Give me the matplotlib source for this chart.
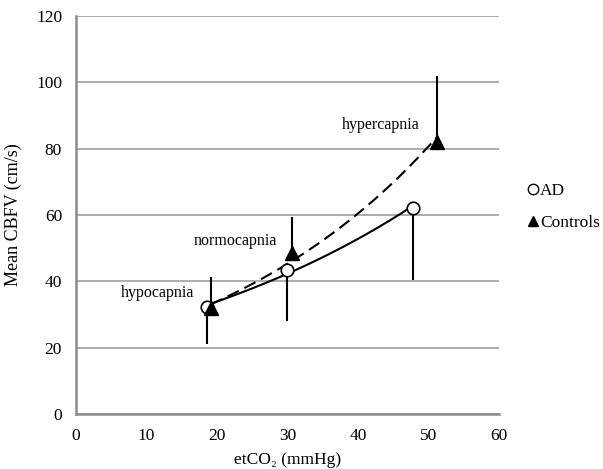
import matplotlib
matplotlib.use("Agg")
import matplotlib.pyplot as plt
import numpy as np

# values
ad_x = [18.6, 29.9, 47.8]
ad_y = [32.3, 43.4, 62.1]
ad_err_low = [11.2, 15.4, 21.7]      # AD error bars point down

ctl_x = [19.1, 30.6, 51.2]
ctl_y = [32.0, 48.5, 82.0]
ctl_err_high = [9.3, 10.9, 20.0]     # Controls error bars point up

phase_labels = ["hypocapnia", "normocapnia", "hypercapnia"]
phase_label_xy = [(11.6, 36.5), (22.6, 52.2), (43.2, 87.1)]

x_ticks = [0, 10, 20, 30, 40, 50, 60]
y_ticks = [0, 20, 40, 60, 80, 100, 120]

plt.rcParams["font.family"] = ["Liberation Serif", "DejaVu Serif"]


def exp_trend(x, y):
    # Excel-style exponential trendline: fit ln(y) = ln(a) + b*x
    b, ln_a = np.polyfit(x, np.log(y), 1)
    xs = np.linspace(min(x), max(x), 200)
    return xs, np.exp(ln_a) * np.exp(b * xs)


fig = plt.figure(figsize=(6.03, 4.69), dpi=100)
ax = fig.add_axes([0.126, 0.1173, 0.7015, 0.8486])

ax.set_xlim(0, 60)
ax.set_ylim(0, 120)
ax.set_xticks(x_ticks)
ax.set_yticks(y_ticks)
ax.tick_params(axis="y", length=0, labelsize=12.5, pad=10)
ax.tick_params(axis="x", length=0, labelsize=12.5, pad=10)
ax.yaxis.grid(True, color="#a0a0a0", linewidth=1.2)
ax.set_axisbelow(True)
for side in ("top", "right"):
    ax.spines[side].set_visible(False)
for side in ("left", "bottom"):
    ax.spines[side].set_color("#8c8c8c")
    ax.spines[side].set_linewidth(1.8)

# error bars
ax.errorbar(ad_x, ad_y, yerr=[ad_err_low, [0] * 3], fmt="none",
            ecolor="black", elinewidth=1.5, capsize=0, zorder=2)
ax.errorbar(ctl_x, ctl_y, yerr=[[0] * 3, ctl_err_high], fmt="none",
            ecolor="black", elinewidth=1.5, capsize=0, zorder=2)

# trend lines
xs, ys = exp_trend(ad_x, ad_y)
ax.plot(xs, ys, color="black", linewidth=1.5, zorder=3)
xs, ys = exp_trend(ctl_x, ctl_y)
ax.plot(xs, ys, color="black", linewidth=1.5, linestyle=(0, (6, 3)), zorder=3)

# markers
ax.plot(ad_x, ad_y, linestyle="none", marker="o", markersize=9,
        markerfacecolor="white", markeredgecolor="black", markeredgewidth=1.2,
        label="AD", zorder=4)
ax.plot(ctl_x, ctl_y, linestyle="none", marker="^", markersize=10,
        color="black", label="Controls", zorder=5)

for text, (tx, ty) in zip(phase_labels, phase_label_xy):
    ax.text(tx, ty, text, ha="center", va="center", fontsize=11.5)

ax.set_ylabel("Mean CBFV (cm/s)", fontsize=13, labelpad=10)
ax.set_xlabel("etCO\u2082 (mmHg)", fontsize=12.5, labelpad=6)

leg = fig.legend(loc="center left", bbox_to_anchor=(0.878, 0.559),
                 frameon=False, fontsize=12.5, handlelength=0.45,
                 handletextpad=0.15, labelspacing=0.95, borderaxespad=0,
                 borderpad=0)
for h in leg.legend_handles:
    h.set_markersize(7.5)
    h.set_markeredgewidth(1.0)

fig.savefig("out.png", dpi=100)
